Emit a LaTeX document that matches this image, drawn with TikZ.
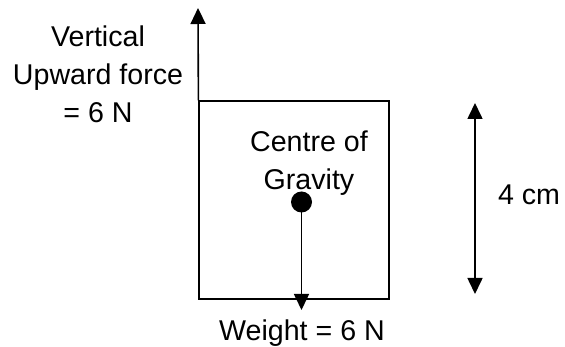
\documentclass[tikz,border=0pt]{standalone}
\usepackage{fontspec}
\setmainfont{Liberation Sans}
\usetikzlibrary{arrows.meta}
\begin{document}
\begin{tikzpicture}[x=1pt,y=-1pt,
  lbl/.style={font=\fontsize{28.6}{38}\selectfont, inner sep=0pt, align=center, anchor=base},
  force/.style={line width=1.6pt, -{Triangle[length=16pt,width=15pt]}},
  dim/.style={line width=1.6pt, {Triangle[length=16pt,width=15pt]}-{Triangle[length=16pt,width=15pt]}},
  body/.style={draw, line width=1.2pt, minimum width=190pt, minimum height=198pt, inner sep=0pt}]
\useasboundingbox (0,0) rectangle (565,347);
\node[body] (sq) at (294,200) {};
\coordinate (uptip) at (198,8);
\draw[force] (sq.north west) -- (uptip);
\node[lbl] (uplbl) at (98,123) {Vertical\\Upward force\\= 6 N};
\node[lbl] (cog) at (309,190) {Centre of\\Gravity};
\node[circle, fill=black, minimum size=21pt, inner sep=0pt] (dot) at (301.5,202) {};
\coordinate (wtip) at (301.5,310);
\draw[force] (dot.center) -- (wtip);
\node[lbl] (wlbl) at (302,341) {Weight = 6 N};
\coordinate (dtop) at (475,103);
\coordinate (dbot) at (475,294);
\draw[dim] (dtop) -- (dbot);
\node[lbl] (len) at (529,205) {4 cm};
\end{tikzpicture}
\end{document}
